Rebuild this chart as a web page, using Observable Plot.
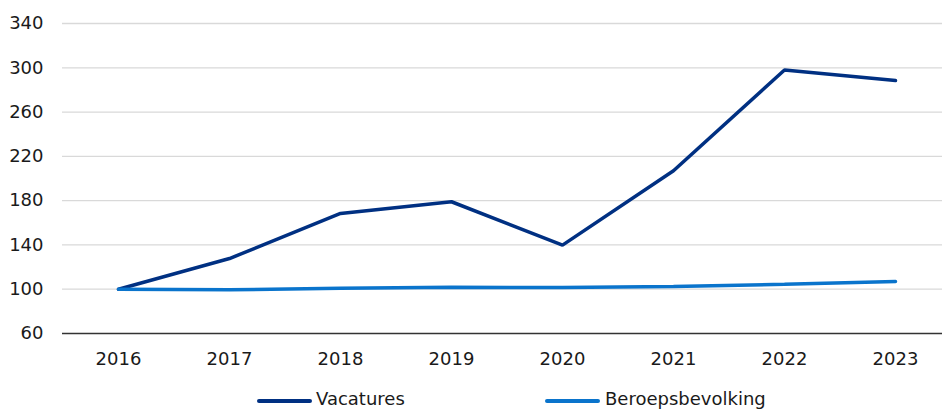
<!DOCTYPE html>
<html>
<head>
<meta charset="utf-8">
<script src="https://cdn.jsdelivr.net/npm/d3@7"></script>
<script src="https://cdn.jsdelivr.net/npm/@observablehq/plot@0.6"></script>
<style>
  html, body { margin: 0; padding: 0; background: #fff; overflow: hidden; }
  body { width: 942px; height: 409px; font-family: "DejaVu Sans", Verdana, sans-serif; color: #1a1a1a; }
  #legend { position: relative; height: 39px; font-size: 18px; }
  .item { position: absolute; top: 0; height: 39px; }
  .item .sw { position: absolute; top: 29px; height: 4px; border-radius: 2px; }
  .item .lab { position: absolute; top: 0; line-height: 1; white-space: nowrap; }
</style>
</head>
<body>
<div id="chart"></div>
<div id="legend"></div>
<script>
const years = ["2016", "2017", "2018", "2019", "2020", "2021", "2022", "2023"];
const vacatures = [100, 127.7, 168.4, 179, 139.8, 207, 298, 288.5];
const beroepsbevolking = [100, 99.5, 100.8, 101.8, 101.5, 102.5, 104.5, 107];
const yTicks = [60, 100, 140, 180, 220, 260, 300, 340];
const seriesNames = ["Vacatures", "Beroepsbevolking"];
const seriesColors = ["#003082", "#0a74cc"];

const data = [];
years.forEach((y, i) => {
  data.push({year: y, value: vacatures[i], series: seriesNames[0]});
  data.push({year: y, value: beroepsbevolking[i], series: seriesNames[1]});
});

const chart = Plot.plot({
  width: 942,
  height: 370,
  marginLeft: 62,
  marginRight: 0,
  marginTop: 23,
  marginBottom: 37,
  style: {fontFamily: '"DejaVu Sans", Verdana, sans-serif', fontSize: "18px", color: "#1a1a1a", background: "#fff"},
  x: {type: "point", domain: years, range: [117.5, 895.5], padding: 0, label: null},
  y: {domain: [60, 340], ticks: yTicks, label: null},
  color: {domain: seriesNames, range: seriesColors},
  marks: [
    Plot.gridY(yTicks.filter(t => t > 60), {stroke: "#d9d9d9", strokeOpacity: 1, strokeWidth: 1.3}),
    Plot.ruleY([60], {stroke: "#333333", strokeWidth: 1.3}),
    Plot.axisY({ticks: yTicks, tickSize: 0, tickPadding: 19, label: null, fontSize: 18}),
    Plot.axisX({tickSize: 0, tickPadding: 19, label: null, fontSize: 18}),
    Plot.line(data, {x: "year", y: "value", stroke: "series", z: "series", strokeWidth: 3.5, strokeLinejoin: "miter", strokeLinecap: "round"})
  ]
});
document.getElementById("chart").appendChild(chart);

const legend = document.getElementById("legend");
const legendPos = [{line: 257, w: 55, text: 316}, {line: 545, w: 55, text: 605}];
seriesNames.forEach((name, i) => {
  const it = document.createElement("div");
  it.className = "item";
  it.style.left = "0px";
  const sw = document.createElement("div");
  sw.className = "sw";
  sw.style.left = legendPos[i].line + "px";
  sw.style.width = legendPos[i].w + "px";
  sw.style.background = seriesColors[i];
  const lab = document.createElement("div");
  lab.className = "lab";
  lab.style.left = legendPos[i].text + "px";
  lab.style.top = "20px";
  lab.textContent = name;
  it.appendChild(sw);
  it.appendChild(lab);
  legend.appendChild(it);
});
</script>
</body>
</html>
